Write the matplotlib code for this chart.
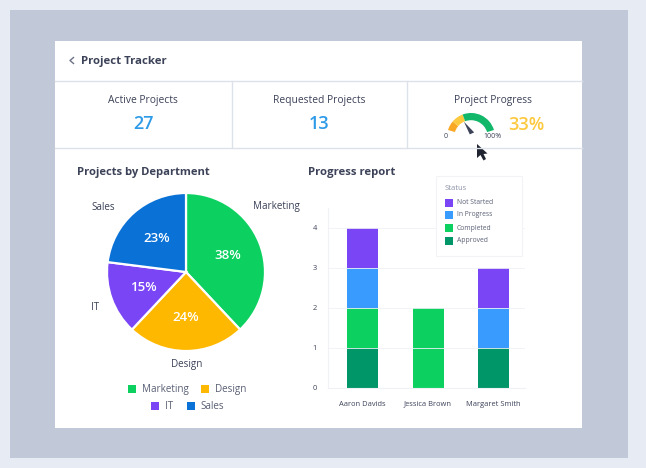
import numpy as np
import matplotlib
matplotlib.use('Agg')
import matplotlib.pyplot as plt
from matplotlib.patches import Rectangle, Polygon

plt.rcParams['font.family'] = ['Open Sans', 'DejaVu Sans']

W, H = 646, 468

# KPI row
kpi_titles = ['Active Projects', 'Requested Projects', 'Project Progress']
kpi_values = ['27', '13', '33%']

# pie
departments = ['Marketing', 'Design', 'IT', 'Sales']
dept_share = [38, 24, 15, 23]
dept_colors = ['#0cd161', '#ffb800', '#7a45f5', '#0a71d6']

# stacked bars
people = ['Aaron Davids', 'Jessica Brown', 'Margaret Smith']
approved = [1, 0, 1]
completed = [1, 2, 0]
in_progress = [1, 0, 1]
not_started = [1, 0, 1]
status_names = ['Not Started', 'In Progress', 'Completed', 'Approved']
status_colors = ['#7a45f5', '#3a9bff', '#0cd161', '#009668']

# gauge
gauge_parts = [16, 20, 64]
gauge_colors = ['#f9a825', '#fdc93f', '#12b76a']
progress = 33

dark = '#3c4258'
grey = '#5a6075'

def px_axes(left, top, right, bottom):
    return fig.add_axes([left / W, 1 - bottom / H, (right - left) / W, (bottom - top) / H])

fig = plt.figure(figsize=(W / 100, H / 100), dpi=100, facecolor='#e7ebf4')

# page background + card, drawn in pixel coordinates
bg = fig.add_axes([0, 0, 1, 1], zorder=0)
bg.set_xlim(0, W)
bg.set_ylim(H, 0)
bg.axis('off')
bg.add_patch(Rectangle((10, 10), 618, 448, color='#c1c9d9', lw=0))
bg.add_patch(Rectangle((55, 41), 527, 387, color='white', lw=0))

# header lines
line = '#dde1ea'
bg.plot([55, 582], [81, 81], color=line, lw=1)
bg.plot([55, 582], [148, 148], color=line, lw=1)
bg.plot([232, 232], [81, 148], color=line, lw=1)
bg.plot([407, 407], [81, 148], color=line, lw=1)

bg.plot([73.5, 70, 73.5], [57.5, 60.5, 63.5], color='#6d7385', lw=1)
bg.text(81, 61.5, 'Project Tracker', fontsize=8.2, fontweight='bold', color=dark, va='center')

# KPI text
kpi_x = [143, 319, 493]
for x, t in zip(kpi_x, kpi_titles):
    bg.text(x, 100, t, fontsize=7.35, color=dark, ha='center', va='center')
bg.text(kpi_x[0], 124, kpi_values[0], fontsize=13, fontweight='semibold', color='#2e9be8', ha='center', va='center')
bg.text(kpi_x[1], 124, kpi_values[1], fontsize=13, fontweight='semibold', color='#2e9be8', ha='center', va='center')
bg.text(526, 124.5, kpi_values[2], fontsize=13, fontweight='semibold', color='#fdc93f', ha='center', va='center')

bg.text(77, 172.5, 'Projects by Department', fontsize=8.1, fontweight='bold', color=dark, va='center')
bg.text(308, 172.5, 'Progress report', fontsize=8.2, fontweight='bold', color=dark, va='center')

# gauge is a 146 degree band of a donut, the rest of the ring is hidden
sweep = 146
start = 163
hidden = sum(gauge_parts) * (360 - sweep) / sweep
g = px_axes(447, 113, 495, 161)
g.set_zorder(1)
g.pie(gauge_parts + [hidden], colors=gauge_colors + ['none'], startangle=start,
      counterclock=False, radius=1, wedgeprops={'width': 0.3, 'linewidth': 0})
g.set_xlim(-1, 1)
g.set_ylim(-1, 1)
ang = np.radians(start - progress / 100 * sweep)
tip = np.array([0.7 * np.cos(ang), 0.7 * np.sin(ang)])
base = np.array([0.04, 0.15])
side = np.array([-np.sin(ang), np.cos(ang)]) * 0.1
g.add_patch(Polygon([tip, base + side, base - side], color=dark, lw=0))
g.patch.set_alpha(0)
bg.text(446, 137, '0', fontsize=5, color=dark, ha='center', va='center')
bg.text(492, 137, '100%', fontsize=5, color=dark, ha='center', va='center')

# mouse cursor
bg.add_patch(Polygon([(477, 144), (477, 158), (480.5, 155), (483.5, 160.5), (486, 159), (483.5, 154), (487.5, 153.5)],
                     color='#1f2430', lw=0))

# pie
p = px_axes(107, 193, 265, 351)
wedges, _, pct = p.pie(dept_share, colors=dept_colors, startangle=90, counterclock=False,
                       autopct='%d%%', pctdistance=0.57,
                       wedgeprops={'edgecolor': 'white', 'linewidth': 1.6})
p.set_xlim(-1, 1)
p.set_ylim(-1, 1)
for t in pct:
    t.set_color('white')
    t.set_fontsize(9.5)
    t.set_fontweight('semibold')
p.patch.set_alpha(0)

label_pos = [(276, 207), (187, 365), (95, 308), (103, 207)]
for name, (x, y) in zip(departments, label_pos):
    bg.text(x, y, name, fontsize=7.1, color=dark, ha='center', va='center')

# pie legend, two centred rows
legend_x = [(128, 142), (201, 215), (151, 165), (187, 200)]
legend_y = [389, 389, 406, 406]
for name, col, (bx, tx), y in zip(departments, dept_colors, legend_x, legend_y):
    bg.add_patch(Rectangle((bx, y - 4), 8, 8, color=col, lw=0))
    bg.text(tx, y + 0.5, name, fontsize=7.1, color=grey, va='center')

# stacked bars
b = px_axes(328, 208, 525, 388)
xs = np.arange(len(people))
bottom = np.zeros(len(people))
series = [approved, completed, in_progress, not_started]
for vals, col in zip(series, status_colors[::-1]):
    b.bar(xs, vals, width=0.473, bottom=bottom, color=col, zorder=2)
    bottom = bottom + np.array(vals)
b.set_xlim(-0.527, 2.48)
b.set_ylim(0, 4.5)
b.set_xticks(xs, people)
b.set_yticks([0, 1, 2, 3, 4])
b.tick_params(length=0, labelsize=5.4, labelcolor=dark, pad=9)
b.tick_params(axis='y', pad=8)
b.grid(axis='y', color='#eff1f6', lw=0.6, zorder=3)
b.set_axisbelow(False)
for s in ['top', 'right']:
    b.spines[s].set_visible(False)
b.spines['left'].set_color('#f0f2f6')
b.spines['bottom'].set_color('#eff1f6')
b.patch.set_alpha(0)

# status box sits on top of the bars axes
box = fig.add_axes([0, 0, 1, 1], zorder=5)
box.set_xlim(0, W)
box.set_ylim(H, 0)
box.axis('off')
box.add_patch(Rectangle((436, 176), 86, 80, facecolor='white', edgecolor='#f1f3f7', lw=0.8))
box.text(445, 188, 'Status', fontsize=5.5, color='#8d93a8', va='center')
status_y = [203, 215, 228, 241]
for name, col, y in zip(status_names, status_colors, status_y):
    box.add_patch(Rectangle((445, y - 3.75), 7.5, 7.5, color=col, lw=0))
    box.text(457, y, name, fontsize=4.9, color=grey, va='center')

fig.savefig('out.png', dpi=100, facecolor=fig.get_facecolor())
